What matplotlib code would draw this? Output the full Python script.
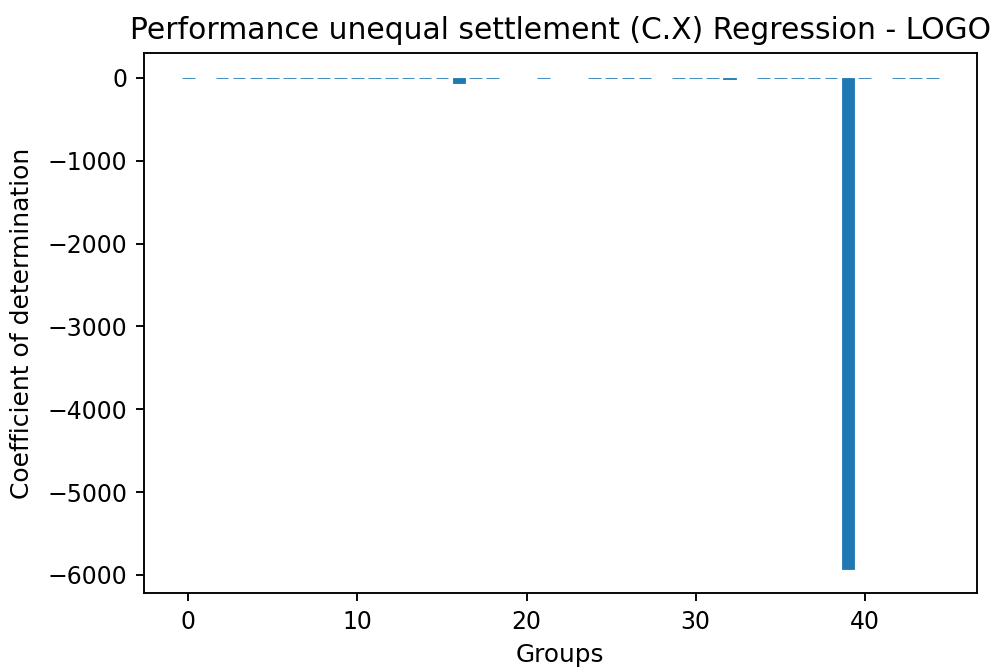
import numpy as np
import matplotlib
matplotlib.use('Agg')
import matplotlib.pyplot as plt

# one bar per left-out group, NaN where no score was drawn
groups = np.arange(45)
r2 = [0.6, np.nan, -4, 0.5, -5, -6, 0.7, -4, -5, 0.5,
      -6, -5, 0.6, -4, -5, 0.6, -62, -5, -4, np.nan,
      np.nan, 0.5, np.nan, np.nan, 0.6, -5, 0.5, -4, np.nan, 0.6,
      0.5, -5, -16, np.nan, -4, -5, 0.6, -4, 0.5, -5925,
      0.6, np.nan, 0.5, 0.6, 0.5]

dpi = 170
fig = plt.figure(figsize=(996 / dpi, 669 / dpi), dpi=dpi)
ax = fig.add_axes([144 / 996, 1 - 593.3 / 669, (976.7 - 144) / 996, (593.3 - 53.3) / 669])

# thin edge in the same colour so the near-zero bars still show as a line
ax.bar(groups, r2, width=0.75, color='#1f77b4', edgecolor='#1f77b4', linewidth=0.35)
ax.set_title('Performance unequal settlement (C.X) Regression - LOGO', fontsize=12.6)
ax.set_xlabel('Groups', fontsize=10.5)
ax.set_ylabel('Coefficient of determination', fontsize=10.6, labelpad=5.5)

fig.savefig('out.png', dpi=dpi)
